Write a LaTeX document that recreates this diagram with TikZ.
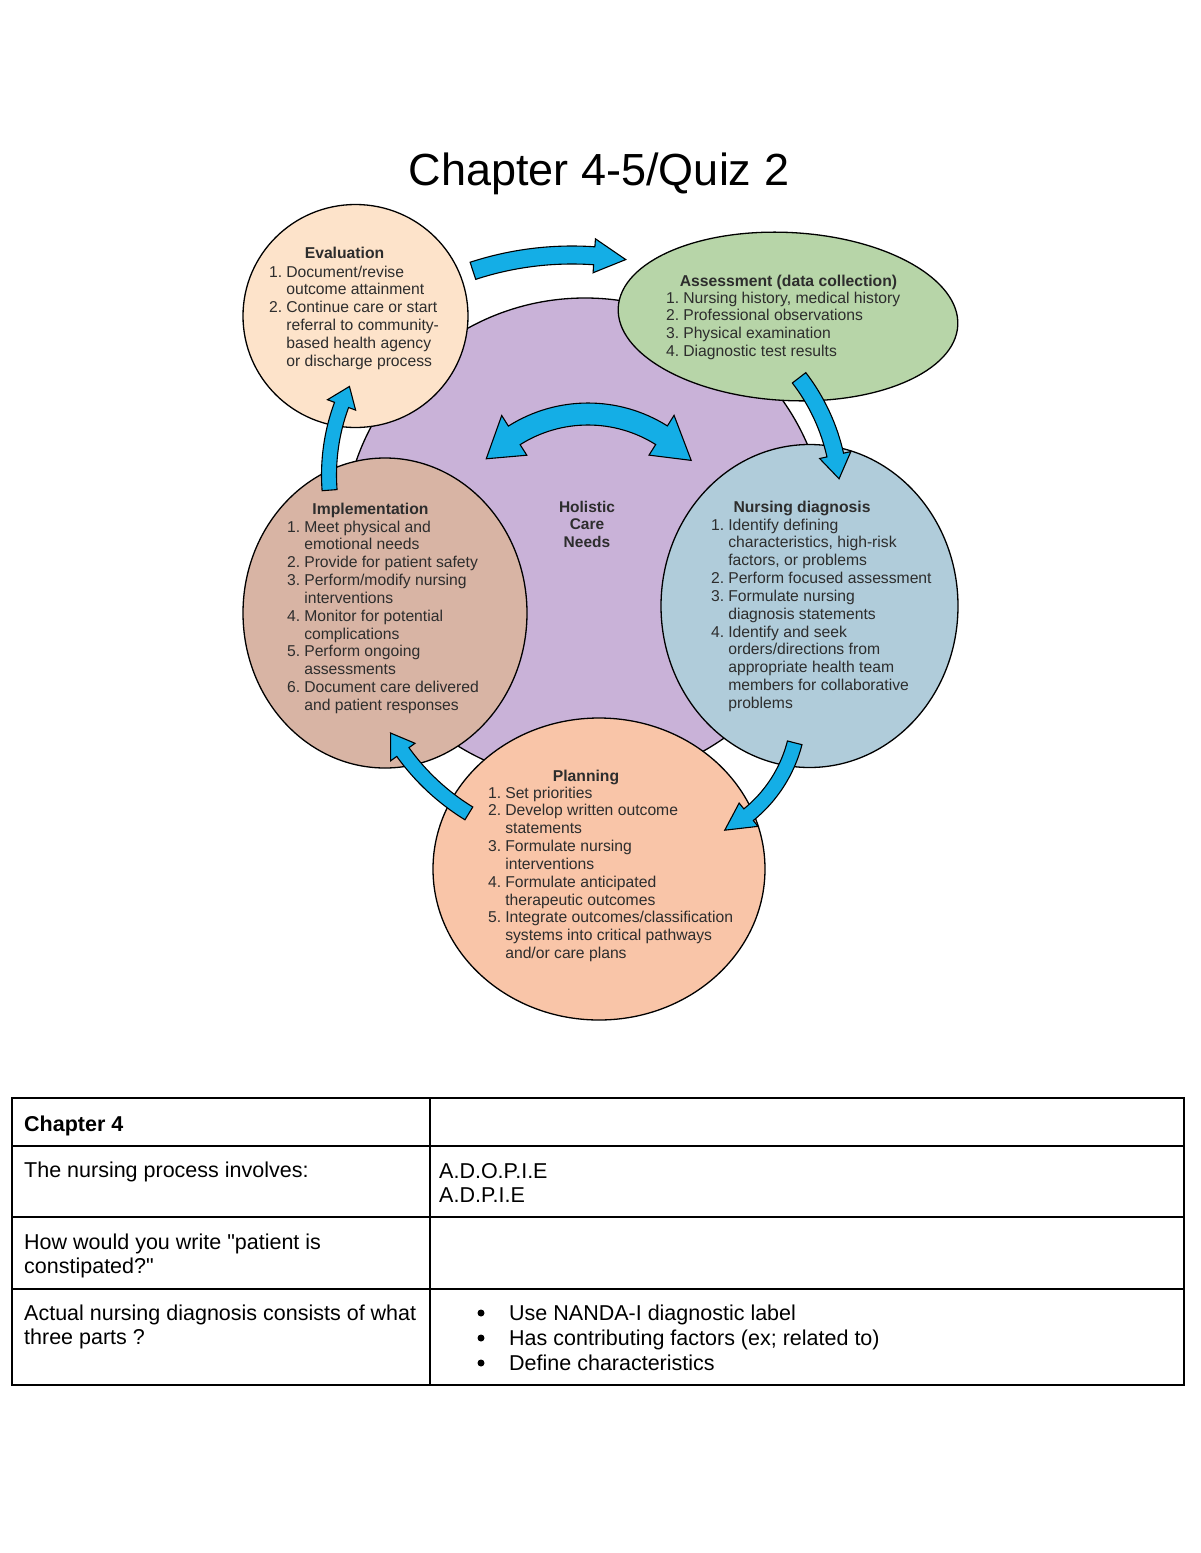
\documentclass[tikz,border=0pt]{standalone}
\usepackage{fontspec}
\setmainfont{Liberation Sans}
\usetikzlibrary{shapes.geometric}
\definecolor{purp}{RGB}{201,178,216}
\definecolor{evalc}{RGB}{253,227,202}
\definecolor{assc}{RGB}{183,213,168}
\definecolor{implc}{RGB}{216,180,164}
\definecolor{nursc}{RGB}{176,204,218}
\definecolor{planc}{RGB}{249,197,168}
\definecolor{arrc}{RGB}{20,174,230}
\definecolor{txtc}{RGB}{45,45,45}
\newcommand{\cfont}{\fontsize{15.7}{17.85}\selectfont}
\newcommand{\tfont}{\fontsize{21.5}{24.5}\selectfont}
\newcommand{\blockarc}[8]{%
  \filldraw[arr] ({#1+(#3+#7)*cos(#4)},{#2+(#3+#7)*sin(#4)})
    arc[start angle=#4,end angle=#5,radius={#3+#7}]
    -- ({#1+(#3+#8)*cos(#5)},{#2+(#3+#8)*sin(#5)})
    -- ({#1+#3*cos(#6)},{#2+#3*sin(#6)})
    -- ({#1+(#3-#8)*cos(#5)},{#2+(#3-#8)*sin(#5)})
    -- ({#1+(#3-#7)*cos(#5)},{#2+(#3-#7)*sin(#5)})
    arc[start angle=#5,end angle=#4,radius={#3-#7}]
    -- cycle;}
\newcommand{\dblarc}[9]{%
  \filldraw[arr] ({#1+#3*cos(#4)},{#2+#3*sin(#4)})
    -- ({#1+(#3+#9)*cos(#5)},{#2+(#3+#9)*sin(#5)})
    -- ({#1+(#3+#8)*cos(#5)},{#2+(#3+#8)*sin(#5)})
    arc[start angle=#5,end angle=#6,radius={#3+#8}]
    -- ({#1+(#3+#9)*cos(#6)},{#2+(#3+#9)*sin(#6)})
    -- ({#1+#3*cos(#7)},{#2+#3*sin(#7)})
    -- ({#1+(#3-#9)*cos(#6)},{#2+(#3-#9)*sin(#6)})
    -- ({#1+(#3-#8)*cos(#6)},{#2+(#3-#8)*sin(#6)})
    arc[start angle=#6,end angle=#5,radius={#3-#8}]
    -- ({#1+(#3-#9)*cos(#5)},{#2+(#3-#9)*sin(#5)})
    -- cycle;}
\begin{document}
\begin{tikzpicture}[x=1pt,y=-1pt,
  ell/.style={ellipse, draw=black, line width=1.3pt, inner sep=0pt, outer sep=0pt},
  arr/.style={fill=arrc, draw=black, line width=1.1pt, line join=miter},
  head/.style={anchor=base, font=\cfont\bfseries, text=txtc, inner sep=0pt},
  lst/.style={anchor=base west, font=\cfont, text=txtc, inner sep=0pt},
  cell/.style={anchor=base west, font=\tfont, text=black, inner sep=0pt},
  tline/.style={line width=2pt, draw=black},
  bul/.style={circle, fill=black, inner sep=0pt, minimum size=7pt}]
\fill[white] (0,0) rectangle (1200,1553);
\useasboundingbox (0,0) rectangle (1200,1553);

\node[anchor=base, font=\fontsize{45}{54}\selectfont, inner sep=0pt] (title) at (599,185) {Chapter 4-5/Quiz 2};

% shapes
\node[circle, draw=black, line width=1.3pt, fill=purp, minimum size=484pt, inner sep=0pt] (hcn) at (585,540) {};
\node[ell, fill=evalc, minimum width=225pt, minimum height=223pt] (eval) at (355.5,316) {};
\node[ell, fill=assc, minimum width=340pt, minimum height=168pt, rotate=-3] (ass) at (788,316.5) {};
\node[ell, fill=implc, minimum width=284pt, minimum height=310pt] (impl) at (385,613) {};
\node[ell, fill=nursc, minimum width=297pt, minimum height=323pt] (nurs) at (809.5,606) {};
\node[ell, fill=planc, minimum width=332pt, minimum height=302pt] (plan) at (599,869) {};

% texts
\node[anchor=base, font=\fontsize{15.5}{17.5}\selectfont\bfseries, text=txtc, inner sep=0pt] (hol) at (587,512)
  {\begin{tabular}[t]{@{}c@{}}Holistic\\Care\\Needs\end{tabular}};

\node[head] (evalH) at (344.5,258) {Evaluation};
\node[lst] (evalL) at (269,277) {\begin{tabular}[t]{@{}l@{\hspace{4pt}}l@{}}
1.&Document/revise\\&outcome attainment\\2.&Continue care or start\\&referral to community-\\&based health agency\\&or discharge process\end{tabular}};

\node[head] (assH) at (788.5,286) {Assessment (data collection)};
\node[lst] (assL) at (666,303) {\begin{tabular}[t]{@{}l@{\hspace{4pt}}l@{}}
1.&Nursing history, medical history\\2.&Professional observations\\3.&Physical examination\\4.&Diagnostic test results\end{tabular}};

\node[head] (implH) at (370.5,514) {Implementation};
\node[lst] (implL) at (287,532) {\begin{tabular}[t]{@{}l@{\hspace{4pt}}l@{}}
1.&Meet physical and\\&emotional needs\\2.&Provide for patient safety\\3.&Perform/modify nursing\\&interventions\\4.&Monitor for potential\\&complications\\5.&Perform ongoing\\&assessments\\6.&Document care delivered\\&and patient responses\end{tabular}};

\node[head] (nursH) at (802,512) {Nursing diagnosis};
\node[lst] (nursL) at (711,530) {\begin{tabular}[t]{@{}l@{\hspace{4pt}}l@{}}
1.&Identify defining\\&characteristics, high-risk\\&factors, or problems\\2.&Perform focused assessment\\3.&Formulate nursing\\&diagnosis statements\\4.&Identify and seek\\&orders/directions from\\&appropriate health team\\&members for collaborative\\&problems\end{tabular}};

\node[head] (planH) at (586,781) {Planning};
\node[lst] (planL) at (488,798) {\begin{tabular}[t]{@{}l@{\hspace{4pt}}l@{}}
1.&Set priorities\\2.&Develop written outcome\\&statements\\3.&Formulate nursing\\&interventions\\4.&Formulate anticipated\\&therapeutic outcomes\\5.&Integrate outcomes/classification\\&systems into critical pathways\\&and/or care plans\end{tabular}};

% arrows
\blockarc{572}{574}{319}{-108.1}{-86}{-80.3}{9}{17}
\blockarc{643}{498}{197}{-37.6}{-12.6}{-5.6}{8.5}{16}
\blockarc{663}{709}{136}{14.4}{51}{63}{7.5}{15}
\blockarc{588}{619}{228}{121.5}{144.3}{150}{7.5}{15}
\blockarc{531}{475}{202}{175.7}{200.3}{206}{7.5}{15}
\dblarc{588}{552}{138}{-137.5}{-122.3}{-57.8}{-41.6}{11}{23.5}

% table
\draw[tline] (12,1098) rectangle (1184,1385);
\draw[tline] (12,1146) -- (1184,1146);
\draw[tline] (12,1217) -- (1184,1217);
\draw[tline] (12,1289) -- (1184,1289);
\draw[tline] (430,1098) -- (430,1385);

\node[cell, font=\tfont\bfseries] (c11) at (24,1131) {Chapter 4};
\node[cell] (c21) at (24,1177) {The nursing process involves:};
\node[cell] (c22) at (439,1178) {\begin{tabular}[t]{@{}l@{}}A.D.O.P.I.E\\A.D.P.I.E\end{tabular}};
\node[cell] (c31) at (24,1249) {\begin{tabular}[t]{@{}l@{}}How would you write \textquotedbl patient is\\constipated?\textquotedbl\end{tabular}};
\node[cell] (c41) at (24,1320) {\begin{tabular}[t]{@{}l@{}}Actual nursing diagnosis consists of what\\three parts ?\end{tabular}};
\node[bul] (b1) at (481,1313) {};
\node[bul] (b2) at (481,1338) {};
\node[bul] (b3) at (481,1363) {};
\node[cell] (d1) at (509,1320) {Use NANDA-I diagnostic label};
\node[cell] (d2) at (509,1345) {Has contributing factors (ex; related to)};
\node[cell] (d3) at (509,1370) {Define characteristics};
\end{tikzpicture}
\end{document}
